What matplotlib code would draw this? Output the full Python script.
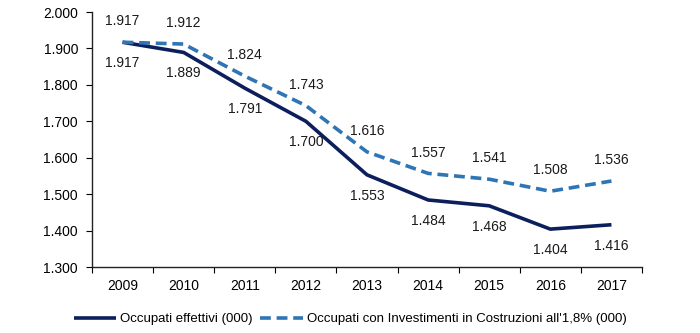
import matplotlib.pyplot as plt
from matplotlib.ticker import FuncFormatter

plt.rcParams["font.family"] = ["Liberation Sans", "DejaVu Sans"]
plt.rcParams["font.size"] = 10

# data
years = ["2009", "2010", "2011", "2012", "2013", "2014", "2015", "2016", "2017"]
effettivi = [1917, 1889, 1791, 1700, 1553, 1484, 1468, 1404, 1416]
investimenti = [1917, 1912, 1824, 1743, 1616, 1557, 1541, 1508, 1536]

navy = "#0c1f5c"
blue = "#2e75b6"

def fmt(v):
    return f"{v/1000:.3f}"

fig = plt.figure(figsize=(7.0, 3.33), dpi=100)
ax = fig.add_axes([92/700, 1 - 267/333, 550/700, 255/333])

x = list(range(len(years)))
l1, = ax.plot(x, effettivi, color=navy, lw=2.6, solid_capstyle="butt",
              label="Occupati effettivi (000)")
l2, = ax.plot(x, investimenti, color=blue, lw=2.6, ls=(0, (3, 1.6)),
              label="Occupati con Investimenti in Costruzioni all'1,8% (000)")

# etichette: sotto la linea piena, sopra la tratteggiata
for xi, v in zip(x, effettivi):
    ax.annotate(fmt(v), (xi, v), xytext=(0, -15), textcoords="offset points",
                ha="center", va="center", color="#1a1a1a")
for xi, v in zip(x, investimenti):
    ax.annotate(fmt(v), (xi, v), xytext=(0, 15), textcoords="offset points",
                ha="center", va="center", color="#1a1a1a")

ax.set_xlim(-0.5, len(years) - 0.5)
ax.set_ylim(1300, 2000)
ax.set_yticks(range(1300, 2001, 100))
ax.yaxis.set_major_formatter(FuncFormatter(lambda v, p: f"{v/1000:.3f}"))

ax.set_xticks([i - 0.5 for i in range(len(years) + 1)])
ax.set_xticklabels([])
ax.set_xticks(x, minor=True)
ax.set_xticklabels(years, minor=True)
ax.tick_params(axis="x", which="minor", length=0, pad=9)
ax.tick_params(axis="x", which="major", length=4, direction="out")
ax.tick_params(axis="y", length=4, direction="out", pad=6)

for s in ["top", "right"]:
    ax.spines[s].set_visible(False)
for s in ["left", "bottom"]:
    ax.spines[s].set_color("#222222")
    ax.spines[s].set_linewidth(1.0)

fig.legend(handles=[l1, l2], loc="center", bbox_to_anchor=(0.5, 1 - 319/333),
           ncol=2, frameon=False, handlelength=3.2, columnspacing=0.6,
           handletextpad=0.3, fontsize=9.5)

fig.savefig("out.png", dpi=100)
